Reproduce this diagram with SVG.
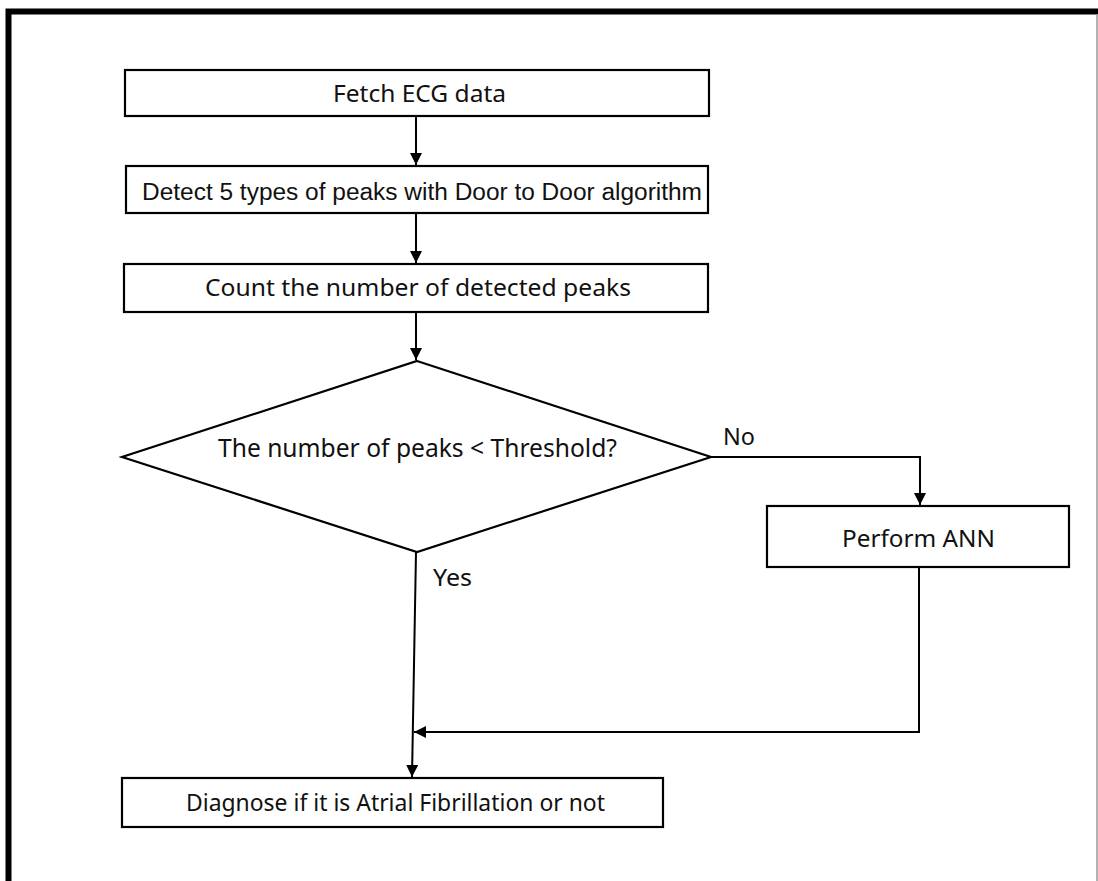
<svg xmlns="http://www.w3.org/2000/svg" width="1098" height="881" viewBox="0 0 1098 881">
<style>
.box{fill:#fff;stroke:#000;stroke-width:2.2}
.t{font-family:"Noto Sans","Open Sans",sans-serif;font-size:23px;fill:#111}
.a{font-family:"Liberation Sans",Arial,sans-serif;font-size:23.5px;fill:#111}
.c{fill:none;stroke:#000;stroke-width:2}
</style>
<defs>
<marker id="ah" markerUnits="userSpaceOnUse" markerWidth="12" markerHeight="12" viewBox="0 0 12 12" refX="12" refY="6" orient="auto">
<path d="M0,0 L12,6 L0,12 Z" fill="#000"/>
</marker>
</defs>
<rect width="1098" height="881" fill="#fff"/>
<g id="frame">
<path d="M8.5,881 V11.5 H1098" fill="none" stroke="#000" stroke-width="6"/>
<line x1="1097" y1="14" x2="1097" y2="881" stroke="#999" stroke-width="1.5"/>
</g>
<g id="connectors">
<line class="c" x1="416" y1="116" x2="416" y2="165" marker-end="url(#ah)"/>
<line class="c" x1="416" y1="213" x2="416" y2="263" marker-end="url(#ah)"/>
<line class="c" x1="416" y1="312" x2="416" y2="360" marker-end="url(#ah)"/>
<polyline class="c" points="711,457 920,457 920,505" marker-end="url(#ah)"/>
<polyline class="c" points="919,567 919,732 414,732" marker-end="url(#ah)"/>
<line class="c" x1="416" y1="552" x2="412" y2="777" marker-end="url(#ah)"/>
</g>
<g id="fetch">
<rect class="box" x="125" y="70" width="584" height="46"/>
<text class="t" x="333" y="102" textLength="173" lengthAdjust="spacingAndGlyphs">Fetch ECG data</text>
</g>
<g id="detect">
<rect class="box" x="126" y="166" width="582" height="47"/>
<text class="a" x="142" y="200" textLength="560" lengthAdjust="spacingAndGlyphs">Detect 5 types of peaks with Door to Door algorithm</text>
</g>
<g id="count">
<rect class="box" x="124" y="264" width="584" height="48"/>
<text class="t" x="205" y="296" textLength="426" lengthAdjust="spacingAndGlyphs">Count the number of detected peaks</text>
</g>
<g id="decision">
<polygon class="box" points="417,361 711,457 417,552 122,457"/>
<text class="t" x="218" y="457" style="font-size:25px" textLength="399" lengthAdjust="spacingAndGlyphs">The number of peaks &lt; Threshold?</text>
</g>
<g id="ann">
<rect class="box" x="767" y="506" width="302" height="61"/>
<text class="t" x="842" y="547" style="font-size:24px" textLength="153" lengthAdjust="spacingAndGlyphs">Perform ANN</text>
</g>
<g id="diagnose">
<rect class="box" x="122" y="778" width="541" height="49"/>
<text class="t" x="186" y="811" textLength="419" lengthAdjust="spacingAndGlyphs">Diagnose if it is Atrial Fibrillation or not</text>
</g>
<g id="labels">
<text class="t" x="723" y="445" textLength="32" lengthAdjust="spacingAndGlyphs">No</text>
<text class="t" x="433" y="586" textLength="39" lengthAdjust="spacingAndGlyphs">Yes</text>
</g>
</svg>
